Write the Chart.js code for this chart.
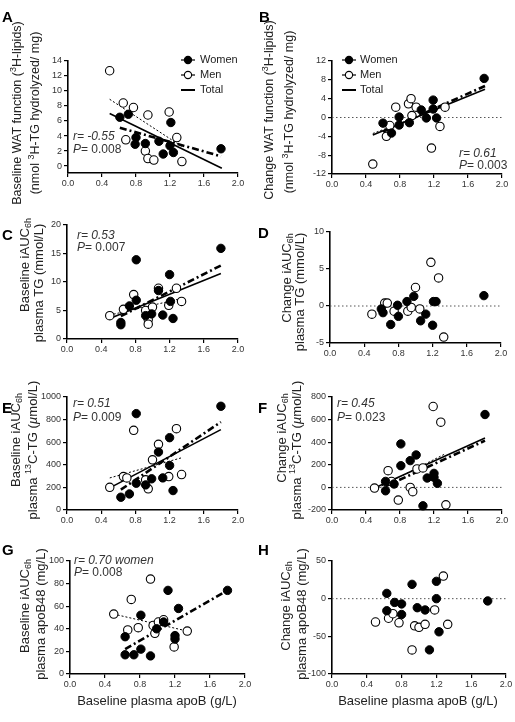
<!DOCTYPE html>
<html>
<head>
<meta charset="utf-8">
<script src="https://cdn.jsdelivr.net/npm/chart.js@4.4.1/dist/chart.umd.min.js"></script>
<style>
  body { margin: 0; background: #fff; width: 515px; height: 722px; position: relative; overflow: hidden; }
  canvas { position: absolute; }
</style>
</head>
<body>
<script>
// x is baseline plasma apoB (g/L) in every panel; [x, y] pairs
const apoBTicks = [0, 0.4, 0.8, 1.2, 1.6, 2.0];
const zeroRef = [[0, 0], [2, 0]];

// A - baseline WAT function
const aWomen = [[0.61, 6.5], [0.71, 6.9], [0.80, 3.8], [0.79, 2.9], [0.91, 3.0], [1.07, 3.3], [1.12, 1.6], [1.20, 2.7], [1.21, 5.8], [1.24, 1.8], [1.80, 2.3]];
const aMen = [[0.49, 12.7], [0.65, 8.4], [0.77, 7.8], [0.68, 3.5], [0.94, 6.8], [0.91, 2.0], [0.94, 1.0], [1.01, 0.8], [1.19, 7.2], [1.28, 3.8], [1.34, 0.6]];
const aTotalFit = [[0.49, 7.0], [1.81, -0.3]];
const aWomenFit = [[0.61, 5.1], [1.80, 1.3]];
const aMenFit = [[0.49, 8.9], [1.34, 2.6]];
const aYTicks = [0, 2, 4, 6, 8, 10, 12, 14];

// B - change WAT function
const bWomen = [[0.60, -1.2], [0.70, -3.3], [0.79, 0.1], [0.79, -1.6], [0.91, -1.1], [1.05, 1.6], [1.11, -0.1], [1.19, 3.7], [1.19, 1.8], [1.23, -0.1], [1.79, 8.3]];
const bMen = [[0.48, -9.9], [0.64, -4.0], [0.68, -1.7], [0.75, 2.2], [0.90, 2.9], [0.93, 4.0], [0.94, 0.4], [0.99, 2.2], [1.17, -6.5], [1.27, -1.9], [1.33, 2.2]];
const bTotalFit = [[0.48, -3.7], [1.80, 6.0]];
const bWomenFit = [[0.60, -3.0], [1.80, 6.7]];
const bMenFit = [[0.48, -3.4], [1.33, 2.4]];
const bYTicks = [-12, -8, -4, 0, 4, 8, 12];

// C - baseline iAUC plasma TG
const cWomen = [[0.63, 2.9], [0.63, 2.5], [0.73, 5.8], [0.81, 6.8], [0.81, 13.9], [0.92, 4.1], [0.99, 4.4], [1.07, 8.5], [1.12, 4.2], [1.20, 11.3], [1.21, 6.6], [1.24, 3.6], [1.80, 15.9]];
const cMen = [[0.50, 4.1], [0.66, 5.2], [0.78, 7.8], [0.92, 5.0], [0.95, 3.4], [0.95, 2.6], [1.00, 5.6], [1.07, 8.9], [1.19, 5.9], [1.28, 8.9], [1.34, 6.6]];
const cTotalFit = [[0.50, 3.6], [1.80, 11.5]];
const cWomenFit = [[0.63, 4.0], [1.80, 12.9]];
const cMenFit = [[0.50, 4.2], [1.34, 7.1]];
const cYTicks = [0, 5, 10, 15, 20];

// D - change iAUC plasma TG
const dWomen = [[0.60, -0.4], [0.62, -0.9], [0.71, -2.5], [0.79, 0.1], [0.80, -1.4], [0.90, 0.6], [0.98, 1.3], [1.06, -2.0], [1.12, -1.1], [1.20, -2.6], [1.21, 0.6], [1.24, 0.6], [1.80, 1.4]];
const dMen = [[0.49, -1.1], [0.64, 0.4], [0.67, 0.4], [0.75, -0.7], [0.91, -0.7], [0.95, -0.2], [1.00, 2.5], [1.05, -0.4], [1.18, 5.9], [1.27, 3.8], [1.33, -4.2]];
const dYTicks = [-5, 0, 5, 10];

// E - baseline iAUC plasma 13C-TG
const eWomen = [[0.63, 113], [0.73, 142], [0.81, 237], [0.81, 853], [0.92, 222], [0.99, 276], [1.07, 513], [1.12, 284], [1.20, 640], [1.20, 394], [1.24, 172], [1.80, 918]];
const eMen = [[0.50, 201], [0.66, 296], [0.70, 284], [0.78, 705], [0.92, 267], [0.95, 187], [1.00, 444], [1.07, 581], [1.19, 296], [1.28, 720], [1.34, 314]];
const eTotalFit = [[0.50, 196], [1.80, 711]];
const eWomenFit = [[0.63, 180], [1.80, 779]];
const eMenFit = [[0.50, 284], [1.34, 462]];
const eYTicks = [0, 200, 400, 600, 800, 1000];

// F - change iAUC plasma 13C-TG
const fWomen = [[0.63, 53], [0.63, -30], [0.73, 30], [0.81, 385], [0.81, 192], [0.92, 237], [0.99, 287], [1.07, -163], [1.12, 83], [1.20, 124], [1.20, 89], [1.24, 36], [1.80, 645]];
const fMen = [[0.50, -6], [0.66, 148], [0.70, 53], [0.78, -112], [0.92, 0], [0.95, -38], [1.00, 163], [1.07, 172], [1.19, 716], [1.28, 577], [1.34, -154]];
const fTotalFit = [[0.50, -6], [1.80, 438]];
const fWomenFit = [[0.63, 10], [1.80, 414]];
const fMenFit = [[0.50, -20], [1.34, 300]];
const fYTicks = [-200, 0, 200, 400, 600, 800];

// G - baseline iAUC plasma apoB48
const gWomen = [[0.63, 33], [0.63, 17], [0.73, 17], [0.81, 22], [0.81, 52], [0.92, 16], [0.99, 40], [1.07, 46], [1.12, 74], [1.20, 31], [1.20, 34], [1.24, 58], [1.80, 74]];
const gMen = [[0.50, 53], [0.66, 39], [0.70, 66], [0.78, 41], [0.92, 84], [0.95, 43], [0.97, 36], [1.01, 46], [1.07, 48], [1.19, 24], [1.34, 38]];
const gWomenFit = [[0.63, 22], [1.80, 74]];
const gMenFit = [[0.50, 53], [1.34, 38]];
const gYTicks = [0, 20, 40, 60, 80, 100];

// H - change iAUC plasma apoB48
const hWomen = [[0.63, 7], [0.63, -16], [0.72, -5], [0.80, -7], [0.80, -21], [0.92, 19], [0.98, -12], [1.07, -15], [1.12, -68], [1.20, 23], [1.20, 0], [1.23, -44], [1.79, -3]];
const hMen = [[0.50, -31], [0.65, -26], [0.70, -20], [0.77, -32], [0.92, -68], [0.95, -36], [1.00, -38], [1.07, -34], [1.18, -15], [1.28, 30], [1.33, -34]];
const hYTicks = [-100, -50, 0, 50];

const FONT = '"Liberation Sans", Arial, sans-serif';
const Y_AXIS_W = 30;
const X_AXIS_H = 16;

const pts = pairs => pairs.map(([x, y]) => ({ x, y }));
const ticksAt = values => scale => { scale.ticks = values.map(v => ({ value: v })); };

// tiny markup: ^{sup} _{sub} *italic*
function richSegments(str) {
  return str.split(/(\^\{[^}]*\}|_\{[^}]*\}|\*[^*]*\*)/).filter(s => s).map(s => {
    if (s.startsWith('^{')) return { t: s.slice(2, -1), sup: true };
    if (s.startsWith('_{')) return { t: s.slice(2, -1), sub: true };
    if (s.startsWith('*')) return { t: s.slice(1, -1), it: true };
    return { t: s };
  });
}

function segFont(seg, size) {
  const sz = (seg.sup || seg.sub) ? Math.round(size * 0.7) : size;
  return (seg.it ? 'italic ' : '') + sz + 'px ' + FONT;
}

function drawRich(ctx, str, x, y, size, opts = {}) {
  const segs = richSegments(str);
  let w = 0;
  segs.forEach(s => { ctx.font = segFont(s, size); s.w = ctx.measureText(s.t).width; w += s.w; });
  ctx.save();
  ctx.translate(x, y);
  if (opts.rotate) ctx.rotate(-Math.PI / 2);
  let cx = opts.align === 'left' ? 0 : -w / 2;
  ctx.textBaseline = 'middle';
  ctx.textAlign = 'left';
  ctx.fillStyle = opts.color || '#222';
  segs.forEach(s => {
    ctx.font = segFont(s, size);
    const dy = s.sup ? -size * 0.35 : s.sub ? size * 0.3 : 0;
    ctx.fillText(s.t, cx, dy);
    cx += s.w;
  });
  ctx.restore();
}

function drawLegend(ctx, mx, tx) {
  const rows = [['Women', 'filled', 60], ['Men', 'open', 75], ['Total', 'line', 90]];
  rows.forEach(([label, kind, y]) => {
    ctx.strokeStyle = '#000';
    ctx.lineWidth = kind === 'line' ? 2 : 1.2;
    ctx.beginPath();
    ctx.moveTo(mx - 7, y);
    ctx.lineTo(mx + 7, y);
    ctx.stroke();
    if (kind !== 'line') {
      ctx.beginPath();
      ctx.arc(mx, y, 3.6, 0, Math.PI * 2);
      ctx.fillStyle = kind === 'filled' ? '#000' : '#fff';
      ctx.fill();
      ctx.lineWidth = 1.1;
      ctx.stroke();
    }
    ctx.fillStyle = '#222';
    ctx.font = '11px ' + FONT;
    ctx.textBaseline = 'middle';
    ctx.fillText(label, tx, y);
  });
}

function decorPlugin(p) {
  return {
    id: 'decor' + p.letter,
    afterDraw(chart) {
      const ctx = chart.ctx;
      ctx.save();
      ctx.translate(-p.box[0], -p.box[1]);
      ctx.fillStyle = '#000';
      ctx.font = 'bold 15px ' + FONT;
      ctx.textBaseline = 'alphabetic';
      ctx.fillText(p.letter, p.letterAt[0], p.letterAt[1]);
      p.ytitle.forEach(([s, x, y]) => drawRich(ctx, s, x, y, p.titleSize || 13, { rotate: true }));
      (p.stats || []).forEach(([s, x, y]) => drawRich(ctx, s, x, y, 12, { align: 'left', color: '#333' }));
      if (p.xtitle) drawRich(ctx, p.xtitle[0], p.xtitle[1], p.xtitle[2], 13);
      if (p.legend) drawLegend(ctx, p.legend[0], p.legend[1]);
      ctx.restore();
    }
  };
}

function fitLine(pairs, style) {
  const base = { data: pts(pairs), showLine: true, pointRadius: 0, borderColor: '#000', clip: false, fill: false };
  if (style === 'total') return { ...base, borderWidth: 1.6 };
  if (style === 'women') return { ...base, borderWidth: 2.6, borderDash: [7, 3, 2, 3] };
  if (style === 'men') return { ...base, borderWidth: 1, borderDash: [2, 2] };
  return { ...base, borderWidth: 1, borderColor: '#555', borderDash: [1.5, 2.5] };
}

function makePanel(p) {
  const [bx, by, bw, bh] = p.box;
  const [L, T, R, B] = p.plot;
  const canvas = document.createElement('canvas');
  canvas.width = bw;
  canvas.height = bh;
  canvas.style.left = bx + 'px';
  canvas.style.top = by + 'px';
  canvas.style.width = bw + 'px';
  canvas.style.height = bh + 'px';
  document.body.appendChild(canvas);

  const datasets = [
    { data: pts(p.women), pointRadius: 4.2, pointBackgroundColor: '#000', pointBorderColor: '#000', pointBorderWidth: 1, clip: false },
    { data: pts(p.men), pointRadius: 4.2, pointBackgroundColor: '#fff', pointBorderColor: '#000', pointBorderWidth: 1.1, clip: false },
  ];
  Object.entries(p.fits || {}).forEach(([style, pairs]) => datasets.push(fitLine(pairs, style)));
  if (p.zero) datasets.push(fitLine(zeroRef, 'zero'));

  const tickFont = { size: 9, family: FONT };
  new Chart(canvas, {
    type: 'scatter',
    data: { datasets },
    options: {
      responsive: false,
      animation: false,
      devicePixelRatio: 1,
      layout: { padding: { left: L - bx - Y_AXIS_W, top: T - by, right: bx + bw - R, bottom: by + bh - B - X_AXIS_H } },
      plugins: { legend: { display: false }, tooltip: { enabled: false } },
      scales: {
        x: {
          type: 'linear', min: 0, max: 2,
          afterBuildTicks: ticksAt(apoBTicks),
          afterFit: s => { s.height = X_AXIS_H; },
          ticks: { callback: v => v.toFixed(1), font: tickFont, color: '#333', padding: 1, maxRotation: 0, autoSkip: false },
          grid: { drawOnChartArea: false, drawTicks: true, tickLength: 4, color: '#000', lineWidth: 1.2 },
          border: { display: true, color: '#000', width: 1.6 },
        },
        y: {
          type: 'linear', min: p.yMin, max: p.yMax,
          afterBuildTicks: ticksAt(p.yTicks),
          afterFit: s => { s.width = Y_AXIS_W; },
          ticks: { callback: v => String(v), font: tickFont, color: '#333', padding: 2, autoSkip: false },
          grid: { drawOnChartArea: false, drawTicks: true, tickLength: 4, color: '#000', lineWidth: 1.2 },
          border: { display: true, color: '#000', width: 1.6 },
        },
      },
    },
    plugins: [decorPlugin(p)],
  });
}

const wat2 = '(nmol ^{3}H-TG hydrolyzed/ mg)';
const c13 = 'plasma ^{13}C-TG (*µ*mol/L)';
const apoBTitle = 'Baseline plasma apoB (g/L)';

const panels = [
  {
    letter: 'A', letterAt: [2, 22], box: [0, 0, 257, 215], plot: [68, 61, 238, 173],
    yMin: -0.93, yMax: 14, yTicks: aYTicks, women: aWomen, men: aMen,
    fits: { total: aTotalFit, women: aWomenFit, men: aMenFit },
    titleSize: 12.5,
    ytitle: [['Baseline WAT function (^{3}H-lipids)', 18, 113], [wat2, 36, 113]],
    stats: [['*r= -0.55*', 73, 137], ['*P*= 0.008', 73, 150]],
    legend: [188, 200],
  },
  {
    letter: 'B', letterAt: [259, 22], box: [257, 0, 258, 215], plot: [332, 61, 502, 174],
    yMin: -12, yMax: 12, yTicks: bYTicks, women: bWomen, men: bMen, zero: true,
    fits: { total: bTotalFit, women: bWomenFit, men: bMenFit },
    titleSize: 12.5,
    ytitle: [['Change WAT function (^{3}H-lipids)', 270, 110], [wat2, 290, 112]],
    stats: [['*r= 0.61*', 459, 154], ['*P*= 0.003', 459, 166]],
    legend: [349, 360],
  },
  {
    letter: 'C', letterAt: [2, 240], box: [0, 195, 257, 175], plot: [67, 225, 238, 339],
    yMin: 0, yMax: 20, yTicks: cYTicks, women: cWomen, men: cMen,
    fits: { total: cTotalFit, women: cWomenFit, men: cMenFit },
    ytitle: [['Baseline iAUC_{6h}', 25, 265], ['plasma TG (mmol/L)', 39, 283]],
    stats: [['*r= 0.53*', 77, 236], ['*P*= 0.007', 77, 248]],
  },
  {
    letter: 'D', letterAt: [258, 238], box: [257, 195, 258, 175], plot: [330, 232, 501, 343],
    yMin: -5, yMax: 10, yTicks: dYTicks, women: dWomen, men: dMen, zero: true,
    ytitle: [['Change iAUC_{6h}', 287, 278], ['plasma TG (mmol/L)', 300, 292]],
  },
  {
    letter: 'E', letterAt: [2, 413], box: [0, 370, 257, 170], plot: [67, 397, 238, 510],
    yMin: 0, yMax: 1000, yTicks: eYTicks, women: eWomen, men: eMen,
    fits: { total: eTotalFit, women: eWomenFit, men: eMenFit },
    ytitle: [['Baseline iAUC_{6h}', 16, 440], [c13, 33, 450]],
    stats: [['*r= 0.51*', 73, 404], ['*P*= 0.009', 73, 418]],
  },
  {
    letter: 'F', letterAt: [258, 413], box: [257, 370, 258, 170], plot: [332, 397, 502, 510],
    yMin: -200, yMax: 800, yTicks: fYTicks, women: fWomen, men: fMen, zero: true,
    fits: { total: fTotalFit, women: fWomenFit, men: fMenFit },
    ytitle: [['Change iAUC_{6h}', 282, 438], [c13, 297, 450]],
    stats: [['*r= 0.45*', 337, 404], ['*P*= 0.023', 337, 418]],
  },
  {
    letter: 'G', letterAt: [2, 555], box: [0, 540, 257, 182], plot: [70, 561, 245, 674],
    yMin: 0, yMax: 100, yTicks: gYTicks, women: gWomen, men: gMen,
    fits: { women: gWomenFit, men: gMenFit },
    ytitle: [['Baseline iAUC_{6h}', 25, 606], ['plasma apoB48 (mg/L)', 41, 614]],
    stats: [['*r= 0.70 women*', 74, 561], ['*P*= 0.008', 74, 573]],
    xtitle: [apoBTitle, 157, 701],
  },
  {
    letter: 'H', letterAt: [258, 555], box: [257, 540, 258, 182], plot: [332, 561, 506, 674],
    yMin: -100, yMax: 50, yTicks: hYTicks, women: hWomen, men: hMen, zero: true,
    ytitle: [['Change iAUC_{6h}', 286, 606], ['plasma apoB48 (mg/L)', 302, 614]],
    xtitle: [apoBTitle, 418, 701],
  },
];

panels.forEach(makePanel);
</script>
</body>
</html>
